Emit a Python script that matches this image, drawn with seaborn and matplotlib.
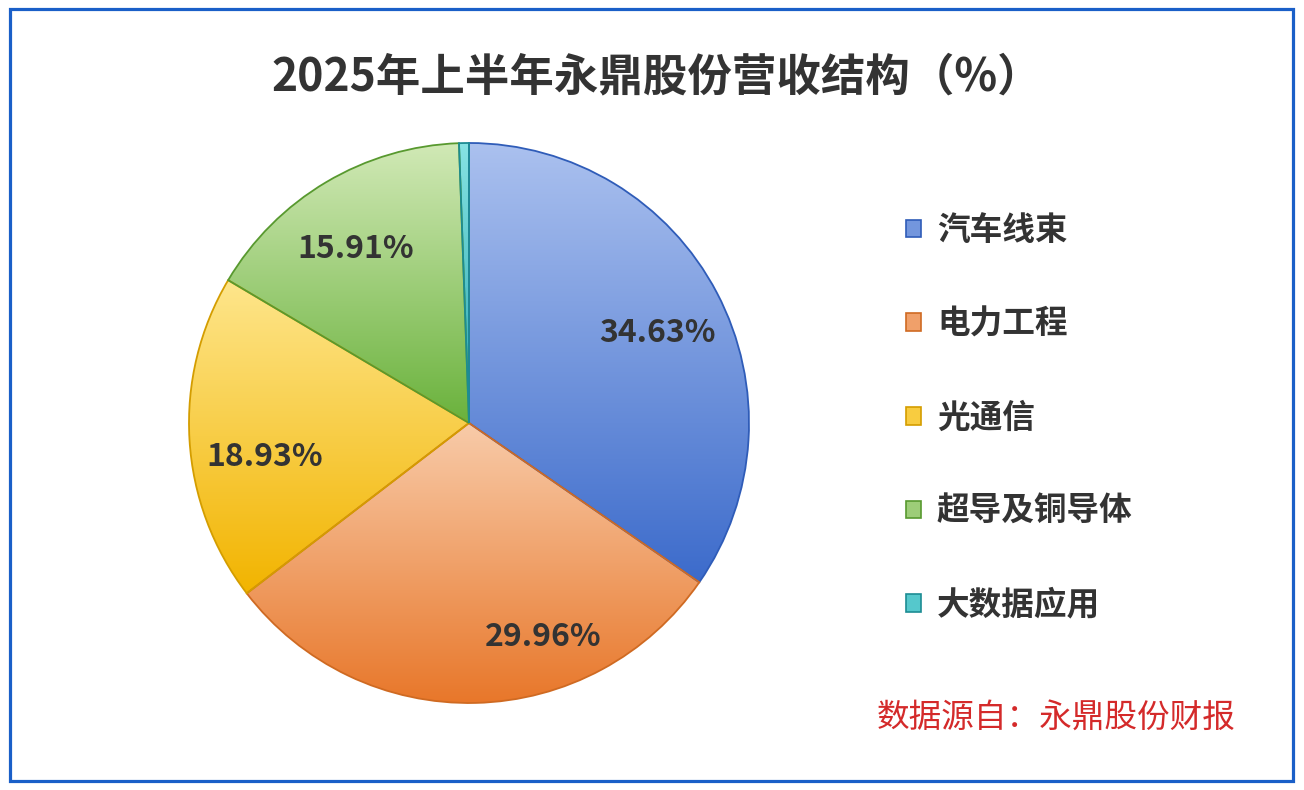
import numpy as np
import matplotlib
matplotlib.use('Agg')
import matplotlib.pyplot as plt
import seaborn as sns
from matplotlib.colors import LinearSegmentedColormap
from matplotlib.patches import Patch, Rectangle

# ---- data ----
categories = ['汽车线束', '电力工程', '光通信', '超导及铜导体', '大数据应用']
shares = [34.63, 29.96, 18.93, 15.91, 0.57]
title = '2025年上半年永鼎股份营收结构（%）'
source = '数据源自：永鼎股份财报'

# ---- styles ----
top_colors = ['#abc1ef', '#f8cba9', '#fee68c', '#d1e9b6', '#86e3e3']
bottom_colors = ['#3c6bcb', '#e8772a', '#f2b400', '#6ab23c', '#27a7ae']
mid_colors = ['#7396dd', '#f0a06a', '#f8cc40', '#9dcd78', '#55c8cc']
edge_colors = ['#2f5cb8', '#cf6a22', '#d49d00', '#58992f', '#1d8c93']
label_pos = [(0.673, 0.321), (0.264, -0.764), (-0.729, -0.121), (-0.404, 0.621)]

sns.set_theme(style='white')
plt.rcParams['font.family'] = ['Noto Sans CJK SC', 'DejaVu Sans']

W, H = 1304, 790
fig = plt.figure(figsize=(W / 100, H / 100), dpi=100)
fig.patch.set_facecolor('white')

cx, cy, R = 469, 423, 280
half = 300
ax = fig.add_axes([(cx - half) / W, (H - cy - half) / H, 2 * half / W, 2 * half / H])
lim = half / R

wedges, texts, autotexts = ax.pie(
    shares, startangle=90, counterclock=False, radius=1,
    colors=mid_colors, autopct='%.2f%%', pctdistance=0.74,
    wedgeprops=dict(linewidth=1.3),
    textprops=dict(fontsize=23, fontweight='bold', color='#333333'))

for i, w in enumerate(wedges):
    w.set_edgecolor(edge_colors[i])
    ext = w.get_path().get_extents()
    cmap = LinearSegmentedColormap.from_list('g%d' % i, [top_colors[i], bottom_colors[i]])
    grad = np.linspace(0, 1, 256).reshape(-1, 1)
    im = ax.imshow(grad, extent=[ext.x0, ext.x1, ext.y0, ext.y1], origin='upper',
                   cmap=cmap, aspect='auto', interpolation='bicubic', zorder=0.5)
    im.set_clip_path(w)
    w.set_facecolor('none')
    w.set_zorder(1)

for i, t in enumerate(autotexts):
    if i < len(label_pos):
        t.set_position(label_pos[i])
        t.set_ha('center'); t.set_va('center')
        t.set_zorder(3)
    else:
        t.set_visible(False)

ax.set_xlim(-lim, lim)
ax.set_ylim(-lim, lim)
ax.set_aspect('equal')
ax.axis('off')

# title
fig.text(657 / W, 1 - 77 / H, title, ha='center', va='center', fontsize=32,
         fontweight='bold', color='#333333')

# legend
handles = [Patch(facecolor=mid_colors[i], edgecolor=edge_colors[i], linewidth=1.2)
           for i in range(len(categories))]
leg = fig.legend(handles, categories, loc='upper left',
                 bbox_to_anchor=(906 / W, 1 - 214 / H), frameon=False,
                 prop=dict(family=['Noto Sans CJK SC', 'DejaVu Sans'], weight='bold', size=23.5),
                 handlelength=0.45, handleheight=0.45, handletextpad=0.5,
                 labelspacing=1.86, borderpad=0, borderaxespad=0)
for t in leg.get_texts():
    t.set_color('#333333')

# source
fig.text(1056 / W, 1 - 719 / H, source, ha='center', va='center', fontsize=23.5,
         color='#d42a2a', fontweight='light')

# border
fig.patches.append(Rectangle((9.5 / W, (H - 781) / H), 1283 / W, 772 / H,
                             transform=fig.transFigure, fill=False,
                             edgecolor='#1a5fc8', linewidth=2.3))

fig.savefig('out.png', dpi=100, facecolor='white')
